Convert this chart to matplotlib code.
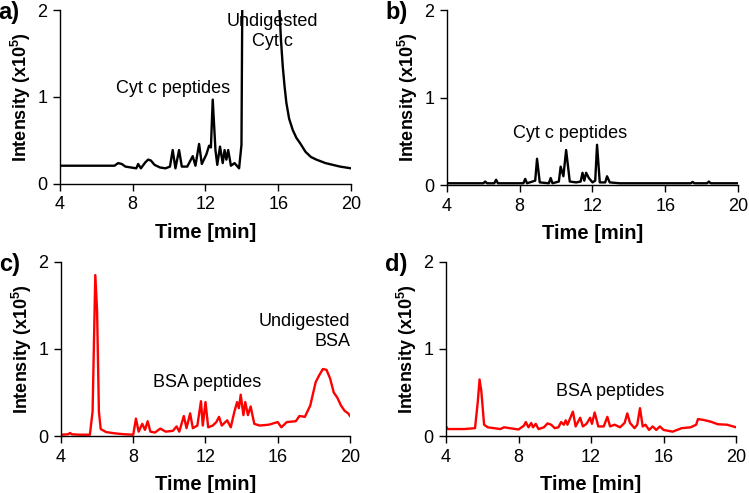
import matplotlib
matplotlib.use("Agg")
import matplotlib.pyplot as plt

plt.rcParams['font.family'] = ['Liberation Sans', 'DejaVu Sans']
plt.rcParams['mathtext.fontset'] = 'custom'
plt.rcParams['mathtext.rm'] = 'Liberation Sans'
plt.rcParams['mathtext.bf'] = 'Liberation Sans:bold'

# ---------------- data ----------------
x_ticks = [4, 8, 12, 16, 20]
y_ticks = [0, 1, 2]
panel_labels = ["a)", "b)", "c)", "d)"]

a_time = [4.0, 4.5, 5.0, 5.5, 6.0, 6.5, 7.0, 7.2, 7.4, 7.6, 7.9, 8.2, 8.3, 8.45, 8.7,
          8.85, 9.0, 9.2, 9.5, 9.8, 10.05, 10.2, 10.35, 10.55, 10.7, 11.0, 11.3, 11.45,
          11.65, 11.8, 12.05, 12.2, 12.3, 12.4, 12.55, 12.65, 12.8, 12.95, 13.05, 13.15,
          13.25, 13.4, 13.6, 13.85, 13.98, 14.05, 14.2, 15.0, 16.0, 16.07, 16.15, 16.25,
          16.35, 16.45, 16.6, 16.8, 17.0, 17.2, 17.5, 17.8, 18.1, 18.6, 19.0, 19.4, 20.0]
a_int = [0.21, 0.21, 0.21, 0.21, 0.21, 0.21, 0.21, 0.24, 0.23, 0.20, 0.19, 0.18, 0.23, 0.18, 0.25,
         0.28, 0.27, 0.22, 0.19, 0.18, 0.20, 0.39, 0.18, 0.39, 0.20, 0.20, 0.32, 0.21,
         0.46, 0.23, 0.34, 0.44, 0.42, 0.97, 0.39, 0.22, 0.43, 0.24, 0.39, 0.28,
         0.39, 0.21, 0.24, 0.18, 0.45, 3.0, 2.6, 3.5, 3.0, 2.0, 1.66, 1.35,
         1.12, 0.93, 0.75, 0.62, 0.53, 0.47, 0.37, 0.31, 0.28, 0.24, 0.22, 0.20, 0.18]

b_time = [4.0, 5.5, 6.0, 6.1, 6.2, 6.6, 6.7, 6.8, 8.2, 8.3, 8.4, 8.85, 8.95, 9.1, 9.6, 9.7,
          9.8, 10.15, 10.25, 10.4, 10.55, 10.75, 11.1, 11.35, 11.45, 11.55, 11.65, 11.8,
          12.0, 12.15, 12.25, 12.4, 12.7, 12.8, 12.95, 13.5, 17.4, 17.5, 17.6, 18.3, 18.4,
          18.5, 20.0]
b_int = [0.02, 0.02, 0.02, 0.04, 0.02, 0.02, 0.06, 0.02, 0.02, 0.07, 0.02, 0.05, 0.30, 0.03, 0.02, 0.08,
         0.02, 0.04, 0.21, 0.10, 0.40, 0.04, 0.03, 0.04, 0.14, 0.05, 0.14, 0.08,
         0.03, 0.05, 0.46, 0.03, 0.03, 0.10, 0.03, 0.02, 0.02, 0.035, 0.02, 0.02, 0.04,
         0.02, 0.02]

c_time = [4.0, 4.4, 4.5, 4.6, 5.0, 5.6, 5.75, 5.9, 6.0, 6.1, 6.2, 6.5, 7.0, 7.5, 8.0, 8.15,
          8.3, 8.5, 8.65, 8.8, 8.95, 9.2, 9.5, 9.8, 10.2, 10.4, 10.55, 10.8, 10.95, 11.15,
          11.3, 11.55, 11.75, 11.85, 12.0, 12.15, 12.4, 12.6, 12.75, 12.9, 13.2, 13.4, 13.6,
          13.75, 13.85, 13.95, 14.1, 14.2, 14.35, 14.5, 14.7, 15.0, 15.5, 16.0, 16.2, 16.5,
          17.0, 17.2, 17.5, 17.8, 18.1, 18.3, 18.5, 18.7, 18.9, 19.1, 19.3, 19.5, 19.7,
          19.9, 20.0]
c_int = [0.015, 0.02, 0.035, 0.02, 0.015, 0.015, 0.28, 1.85, 1.43, 0.28, 0.08, 0.045, 0.03, 0.02, 0.015, 0.20,
         0.05, 0.14, 0.07, 0.17, 0.05, 0.04, 0.085, 0.05, 0.06, 0.11, 0.05, 0.23, 0.09, 0.26,
         0.09, 0.12, 0.40, 0.12, 0.39, 0.10, 0.12, 0.16, 0.22, 0.12, 0.18, 0.10, 0.28,
         0.39, 0.32, 0.475, 0.24, 0.39, 0.24, 0.34, 0.14, 0.12, 0.13, 0.16, 0.10, 0.16,
         0.17, 0.23, 0.22, 0.35, 0.62, 0.70, 0.77, 0.76, 0.66, 0.50, 0.44, 0.35, 0.29,
         0.26, 0.23]

d_time = [4.0, 4.1, 5.0, 5.6, 5.75, 5.85, 5.95, 6.1, 6.3, 7.0, 7.2, 8.0, 8.3, 8.4, 8.55,
          8.7, 8.8, 8.95, 9.1, 9.4, 9.6, 9.8, 10.0, 10.2, 10.35, 10.5, 10.6, 10.7, 10.8,
          11.0, 11.15, 11.4, 11.55, 11.75, 11.95, 12.05, 12.2, 12.4, 12.7, 12.9, 13.05,
          13.3, 13.6, 13.85, 14.0, 14.15, 14.4, 14.55, 14.7, 14.85, 15.0, 15.2, 15.4, 15.6,
          15.8, 16.0, 16.5, 17.0, 17.5, 17.8, 17.9, 18.2, 18.6, 19.0, 19.5, 20.0]
d_int = [0.11, 0.08, 0.08, 0.09, 0.39, 0.65, 0.51, 0.13, 0.10, 0.08, 0.10, 0.075, 0.12, 0.16, 0.10,
         0.15, 0.10, 0.14, 0.08, 0.10, 0.145, 0.13, 0.09, 0.10, 0.16, 0.13, 0.18, 0.13, 0.18,
         0.28, 0.11, 0.21, 0.11, 0.14, 0.21, 0.14, 0.27, 0.11, 0.11, 0.22, 0.11,
         0.13, 0.10, 0.15, 0.26, 0.15, 0.09, 0.13, 0.32, 0.11, 0.13, 0.07, 0.11, 0.07,
         0.11, 0.07, 0.05, 0.09, 0.10, 0.13, 0.195, 0.185, 0.165, 0.135, 0.13, 0.10]

series = [(a_time, a_int, 'black'), (b_time, b_int, 'black'),
          (c_time, c_int, '#ff0000'), (d_time, d_int, '#ff0000')]

# ---------------- layout ----------------
fig = plt.figure(figsize=(7.49, 4.93), dpi=100)
rects = [
    [0.080, 0.6268, 0.3886, 0.3529],
    [0.5968, 0.6247, 0.3885, 0.3550],
    [0.0814, 0.1156, 0.3859, 0.3530],
    [0.5955, 0.1156, 0.3872, 0.3530],
]

tick_fs = 13
ann_fs = 13
xlab_fs = 14.5
ylab_fs = 13

for i, (rect, (t, y, col)) in enumerate(zip(rects, series)):
    assert len(t) == len(y)
    ax = fig.add_axes(rect)
    ax.plot(t, y, color=col, lw=1.7)
    ax.set_xlim(4, 20)
    ax.set_ylim(0, 2)
    ax.set_xticks(x_ticks)
    ax.set_yticks(y_ticks)
    ax.tick_params(direction='out', length=5, width=1, labelsize=tick_fs, pad=4)
    for s in ['top', 'right']:
        ax.spines[s].set_visible(False)
    for s in ['left', 'bottom']:
        ax.spines[s].set_linewidth(1.0)
    ax.set_xlabel('Time [min]', fontsize=xlab_fs, fontweight='bold', labelpad=7)
    ax.set_ylabel(r'Intensity (x10$^{\mathbf{5}}$)', fontsize=ylab_fs, fontweight='bold', labelpad=3)
    fig.text(rect[0] - 0.082, rect[1] + rect[3] - 0.005, panel_labels[i],
             fontsize=17, fontweight='bold', ha='left', va='center')
    if i == 0:
        ax.text(10.2, 1.10, 'Cyt c peptides', fontsize=ann_fs, ha='center', va='center')
        ax.text(15.7, 1.75, 'Undigested\nCyt c', fontsize=ann_fs, ha='center', va='center',
                linespacing=1.2)
    elif i == 1:
        ax.text(10.76, 0.59, 'Cyt c peptides', fontsize=ann_fs, ha='center', va='center')
    elif i == 2:
        ax.text(12.08, 0.62, 'BSA peptides', fontsize=ann_fs, ha='center', va='center')
        ax.text(20.0, 1.20, 'Undigested\nBSA', fontsize=ann_fs, ha='right', va='center',
                multialignment='right', linespacing=1.2)
    else:
        ax.text(13.05, 0.506, 'BSA peptides', fontsize=ann_fs, ha='center', va='center')

fig.savefig('out.png', dpi=100)
